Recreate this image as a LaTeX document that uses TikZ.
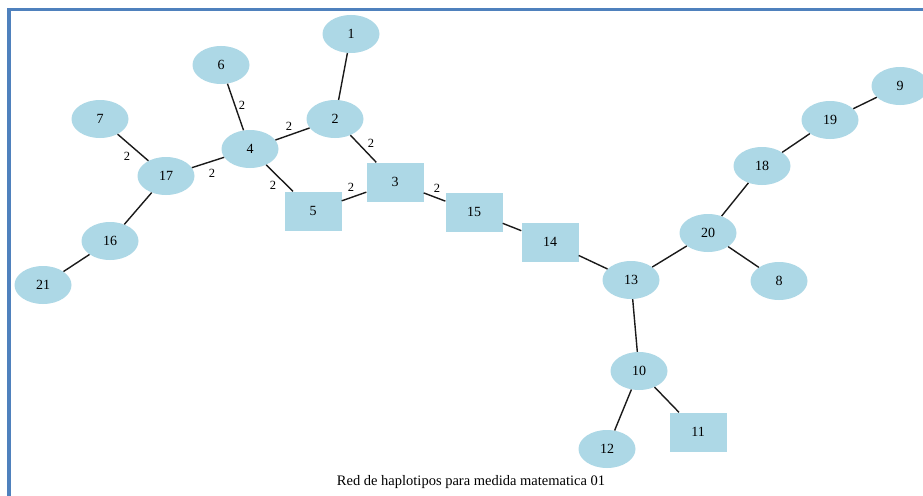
\documentclass[tikz,border=0pt]{standalone}
\usepackage{fontspec}
\setmainfont{Liberation Serif}
\usetikzlibrary{shapes.geometric}
\definecolor{nodefill}{HTML}{ADD8E6}
\definecolor{framecol}{HTML}{4F81BD}
\definecolor{edgecol}{HTML}{1A1A1A}
\begin{document}
\begin{tikzpicture}[x=1pt,y=-1pt,
  hap/.style={ellipse,fill=nodefill,minimum width=57pt,minimum height=38pt,inner sep=0pt,font=\fontsize{14}{16}\selectfont},
  hapbox/.style={rectangle,fill=nodefill,minimum width=57pt,minimum height=39pt,inner sep=0pt,font=\fontsize{14}{16}\selectfont},
  link/.style={draw=edgecol,line width=1.4pt},
  wlabel/.style={inner sep=0pt,font=\fontsize{12.5}{14}\selectfont}]
\useasboundingbox (0,0) rectangle (923,495);
\fill[white] (0,0) rectangle (923,495);
\draw[framecol,line width=3.5pt] (8.8,497) -- (8.8,9.7) -- (925,9.7);
% nodes
\node[hap] (n1) at (351,34) {1};
\node[hap] (n6) at (221,65) {6};
\node[hap] (n2) at (335,119) {2};
\node[hap] (n7) at (100,119) {7};
\node[hap] (n4) at (250,149) {4};
\node[hap] (n17) at (166,176) {17};
\node[hapbox] (n3) at (395,182) {3};
\node[hapbox] (n5) at (313,211) {5};
\node[hapbox] (n15) at (474,212) {15};
\node[hapbox] (n14) at (550,242) {14};
\node[hap] (n16) at (110,241) {16};
\node[hap] (n21) at (43,285) {21};
\node[hap] (n9) at (900,86) {9};
\node[hap] (n19) at (830,120) {19};
\node[hap] (n18) at (762,166) {18};
\node[hap] (n20) at (708,233) {20};
\node[hap] (n13) at (631,280) {13};
\node[hap] (n8) at (779,281) {8};
\node[hap] (n10) at (639,371) {10};
\node[hapbox] (n11) at (698,432) {11};
\node[hap] (n12) at (607,449) {12};
% edges
\draw[link] (n1) -- (n2);
\draw[link] (n6) -- (n4);
\draw[link] (n7) -- (n17);
\draw[link] (n4) -- (n2);
\draw[link] (n17) -- (n4);
\draw[link] (n2) -- (n3);
\draw[link] (n4) -- (n5);
\draw[link] (n5) -- (n3);
\draw[link] (n3) -- (n15);
\draw[link] (n15) -- (n14);
\draw[link] (n14) -- (n13);
\draw[link] (n17) -- (n16);
\draw[link] (n16) -- (n21);
\draw[link] (n13) -- (n20);
\draw[link] (n20) -- (n18);
\draw[link] (n18) -- (n19);
\draw[link] (n19) -- (n9);
\draw[link] (n20) -- (n8);
\draw[link] (n13) -- (n10);
\draw[link] (n10) -- (n12);
\draw[link] (n10) -- (n11);
% edge labels
\node[wlabel] (l64) at (242,105) {2};
\node[wlabel] (l42) at (289,126) {2};
\node[wlabel] (l23) at (371,143) {2};
\node[wlabel] (l717) at (127,156) {2};
\node[wlabel] (l174) at (212,173) {2};
\node[wlabel] (l45) at (273,185) {2};
\node[wlabel] (l53) at (351,187) {2};
\node[wlabel] (l315) at (437,188) {2};
% title
\node[inner sep=0pt,font=\fontsize{14.5}{16}\selectfont] (title) at (471,482) {Red de haplotipos para medida matematica 01};
\end{tikzpicture}
\end{document}
